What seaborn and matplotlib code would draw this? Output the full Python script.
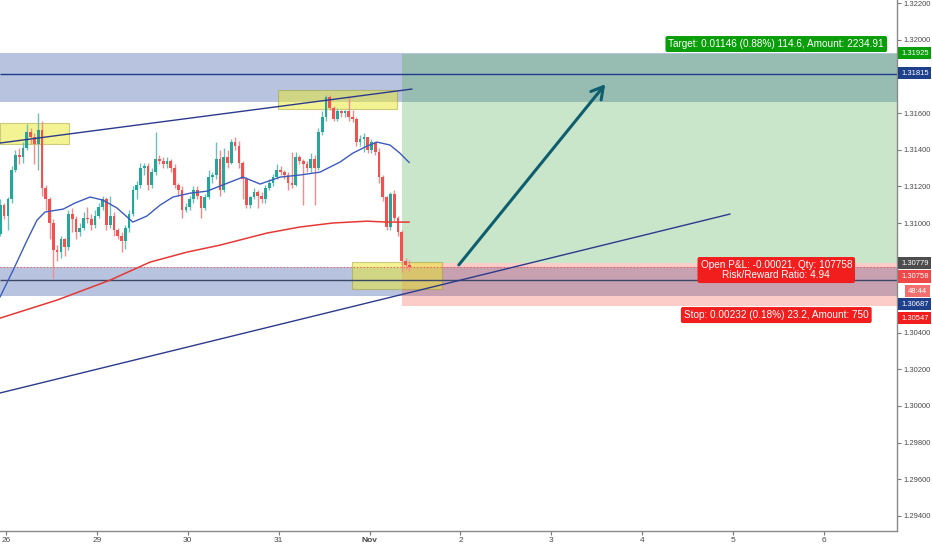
import matplotlib
matplotlib.use("Agg")
import matplotlib.pyplot as plt
import numpy as np
import seaborn as sns
from matplotlib.patches import Rectangle

# hourly candles, hour 0 = Oct 26 00:00
start_hour = -1.5
first_open = 1.3094
closes = [1.3110, 1.3104, 1.3113, 1.3129, 1.3137, 1.3136, 1.3141, 1.3150, 1.3147, 1.3143,
          1.3151, 1.3119, 1.3113, 1.3100, 1.3085, 1.3084, 1.3091, 1.3087, 1.3105, 1.3102,
          1.3095, 1.3097, 1.3103, 1.3102, 1.3099, 1.3104, 1.3109, 1.3113, 1.3099, 1.3104,
          1.3096, 1.3093, 1.3090, 1.3097, 1.3105, 1.3118, 1.3121, 1.3130, 1.3131, 1.3121,
          1.3128, 1.3135, 1.3134, 1.3132, 1.3134, 1.3130, 1.3121, 1.3118, 1.3107, 1.3109,
          1.3113, 1.3118, 1.3115, 1.3108, 1.3114, 1.3125, 1.3126, 1.3135, 1.3118, 1.3136,
          1.3133, 1.3144, 1.3142, 1.3133, 1.3124, 1.3110, 1.3114, 1.3117, 1.3115, 1.3113,
          1.3119, 1.3122, 1.3125, 1.3129, 1.3128, 1.3126, 1.3122, 1.3121, 1.3136, 1.3134,
          1.3132, 1.3130, 1.3135, 1.3130, 1.3150, 1.3158, 1.3169, 1.3163, 1.3157, 1.3161,
          1.3160, 1.3161, 1.3158, 1.3157, 1.3144, 1.3146, 1.3147, 1.3140, 1.3144, 1.3139,
          1.3125, 1.3114, 1.3098, 1.3116, 1.3103, 1.3095, 1.3079, 1.3077, 1.30758]
highs = [1.3113, 1.3111, 1.3114, 1.3131, 1.3140, 1.3141, 1.3144, 1.3154, 1.3152, 1.3149,
         1.3160, 1.3156, 1.3121, 1.3114, 1.3102, 1.3088, 1.3093, 1.3092, 1.3107, 1.3108,
         1.3104, 1.3100, 1.3106, 1.3109, 1.3105, 1.3107, 1.3111, 1.3115, 1.3114, 1.3115,
         1.3106, 1.3097, 1.3095, 1.3099, 1.3107, 1.3120, 1.3123, 1.3133, 1.3133, 1.3133,
         1.3130, 1.3150, 1.3137, 1.3136, 1.3136, 1.3135, 1.3132, 1.3122, 1.3120, 1.3111,
         1.3115, 1.3120, 1.3120, 1.3115, 1.3116, 1.3129, 1.3128, 1.3144, 1.3140, 1.3141,
         1.3140, 1.3146, 1.3147, 1.3145, 1.3134, 1.3125, 1.3115, 1.3119, 1.3118, 1.3117,
         1.3121, 1.3124, 1.3127, 1.3132, 1.3131, 1.3129, 1.3128, 1.3139, 1.3139, 1.3137,
         1.3135, 1.3134, 1.3138, 1.3137, 1.3152, 1.3161, 1.3170, 1.3170, 1.3164, 1.3163,
         1.3162, 1.3162, 1.3169, 1.3162, 1.3158, 1.3148, 1.3149, 1.3147, 1.3146, 1.3145,
         1.3141, 1.3126, 1.3115, 1.3117, 1.3118, 1.3104, 1.3096, 1.3081, 1.3080]
lows = [1.3093, 1.3102, 1.3096, 1.3111, 1.3128, 1.3132, 1.3133, 1.3140, 1.3143, 1.3132,
        1.3129, 1.3115, 1.3107, 1.3091, 1.3070, 1.3079, 1.3081, 1.3082, 1.3085, 1.3095,
        1.3091, 1.3093, 1.3096, 1.3100, 1.3096, 1.3097, 1.3103, 1.3107, 1.3096, 1.3097,
        1.3093, 1.3091, 1.3084, 1.3086, 1.3095, 1.3104, 1.3113, 1.3119, 1.3126, 1.3118,
        1.3119, 1.3126, 1.3132, 1.3130, 1.3130, 1.3128, 1.3119, 1.3115, 1.3103, 1.3106,
        1.3107, 1.3111, 1.3113, 1.3103, 1.3107, 1.3113, 1.3122, 1.3124, 1.3115, 1.3117,
        1.3130, 1.3132, 1.3140, 1.3130, 1.3113, 1.3108, 1.3108, 1.3113, 1.3108, 1.3111,
        1.3111, 1.3118, 1.3120, 1.3124, 1.3126, 1.3124, 1.3118, 1.3119, 1.3120, 1.3132,
        1.3110, 1.3128, 1.3128, 1.3110, 1.3129, 1.3148, 1.3156, 1.3162, 1.3156, 1.3156,
        1.3158, 1.3158, 1.3156, 1.3155, 1.3142, 1.3142, 1.3139, 1.3138, 1.3138, 1.3137,
        1.3122, 1.3112, 1.3096, 1.3096, 1.3101, 1.3093, 1.3073, 1.3075, 1.3074]

# moving averages (hour, price)
ma_fast_hours = [-1.6, 1.9, 5.6, 8.2, 10.3, 15.1, 18.2, 22.2, 25.6, 29.3, 33.5, 37.2, 40.7, 44.1,
                 48.6, 53.1, 56.5, 62.6, 67.1, 72.4, 77.6, 82.9, 88.2, 91.6, 95.3, 98.0, 101.4,
                 104.0, 106.5]
ma_fast_vals = [1.30595, 1.30743, 1.30907, 1.31016, 1.31060, 1.31076, 1.31109, 1.31142, 1.31125,
                1.31082, 1.31005, 1.31038, 1.31098, 1.31142, 1.31163, 1.31174, 1.31202, 1.31251,
                1.31213, 1.31251, 1.31262, 1.31278, 1.31333, 1.31382, 1.31420, 1.31442, 1.31426,
                1.31382, 1.31330]
ma_slow_hours = [-1.6, 13.5, 27.5, 38.0, 47.8, 56.5, 68.9, 77.6, 86.3, 95.3, 100.6, 106.5]
ma_slow_vals = [1.30480, 1.30579, 1.30688, 1.30786, 1.30841, 1.30879, 1.30945, 1.30978, 1.31000,
                1.31010, 1.31005, 1.31005]

# drawings
upper_zone = (1.31661, 1.31930)
lower_zone = (1.30601, 1.30759)
level_blue = 1.31815
level_low = 1.30687
last_price = 1.30758
entry, target, stop = 1.30779, 1.31925, 1.30547
entry_hour = 104.5
trend_upper = ([-1.6, 107.2], [1.31437, 1.31732])
trend_lower = ([-1.6, 191.2], [1.30071, 1.31049])
arrow_from = (119.1, 1.30759)
arrow_to = (158.7, 1.31770)
yellow_boxes = [(-1.6, 16.6, 1.31431, 1.31546),
                (71.8, 103.2, 1.31622, 1.31726),
                (91.4, 115.1, 1.30639, 1.30786)]

day_labels = ['26', '29', '30', '31', 'Nov', '2', '3', '4', '5', '6']
y_ticks = [1.322, 1.320, 1.316, 1.314, 1.312, 1.310, 1.304, 1.302, 1.300, 1.298, 1.296, 1.294]

target_text = "Target: 0.01146 (0.88%) 114.6, Amount: 2234.91"
pnl_text = "Open P&L: -0.00021, Qty: 107758\nRisk/Reward Ratio: 4.94"
stop_text = "Stop: 0.00232 (0.18%) 23.2, Amount: 750"

# right-axis badges: text, shown at price, colour
badges = [("1.31925", 1.31928, '#0a9e0a'),
          ("1.31815", 1.31819, '#1e3f8a'),
          ("1.30779", 1.30781, '#4d4d4d'),
          ("1.30758", 1.30707, '#f04848'),
          ("48:44", 1.30628, '#f47070'),
          ("1.30687", 1.30557, '#1e3f8a'),
          ("1.30547", 1.30480, '#f21d1d')]

sns.set_theme(style="white")
plt.rcParams['font.family'] = ['Liberation Sans', 'DejaVu Sans']

fig = plt.figure(figsize=(9.32, 5.5), dpi=100)
ax_w = 897
ax = fig.add_axes([0, 19 / 550, ax_w / 932, 531 / 550])
x_left, x_right = -6 / 3.787, (ax_w - 6) / 3.787
box_end = x_right

o = np.r_[first_open, closes[:-1]]
c = np.array(closes)
hrs = start_hour + np.arange(len(c))
up = c >= o
green, red = '#26a69a', '#ef5350'
body_col = np.where(up, green, red)
wick_col = np.where(up, '#6cc0b7', '#f28d8b')

# zones
for lo, hi in [upper_zone, lower_zone]:
    ax.add_patch(Rectangle((x_left, lo), box_end - x_left, hi - lo, fc='#2a4d9e',
                           alpha=0.33, lw=0, zorder=1))
ax.add_patch(Rectangle((entry_hour, entry), box_end - entry_hour, target - entry,
                       fc='#4caf50', alpha=0.3, lw=0, zorder=1.5))
ax.add_patch(Rectangle((entry_hour, stop), box_end - entry_hour, entry - stop,
                       fc='#f44336', alpha=0.27, lw=0, zorder=1.5))
for h0, h1, lo, hi in yellow_boxes:
    ax.add_patch(Rectangle((h0, lo), h1 - h0, hi - lo, fc='#e8e82a', alpha=0.5,
                           ec='#9c9c30', lw=0.8, zorder=2))

ax.hlines(level_blue, x_left, box_end, color='#1f3c88', lw=1, zorder=2.5)
ax.hlines(level_low, x_left, box_end, color='#3b4766', lw=1, zorder=2.5)
ax.hlines(last_price, x_left, box_end, color='#ef5350', lw=0.8, ls=(0, (1, 2)), zorder=2.5)

# candles
ax.vlines(hrs, lows, highs, colors=wick_col, lw=1, zorder=3)
ax.bar(hrs, np.maximum(np.abs(c - o), 0.00003), bottom=np.minimum(o, c), width=0.72,
       color=body_col, lw=0, zorder=3.1)

sns.lineplot(x=ma_fast_hours, y=ma_fast_vals, ax=ax, color='#3d5bbf', lw=1, zorder=4)
sns.lineplot(x=ma_slow_hours, y=ma_slow_vals, ax=ax, color='#e53935', lw=1.1, zorder=4)

ax.plot(*trend_upper, color='#2d3a8c', lw=1, zorder=5)
ax.plot(*trend_lower, color='#2d3a8c', lw=1, zorder=5)
ax.annotate('', xy=arrow_to, xytext=arrow_from, zorder=6,
            arrowprops=dict(arrowstyle='->,head_length=0.7,head_width=0.4',
                            color='#0f5e6e', lw=2.2))

lbl_x = 203.4
box_style = 'round,pad=0.3,rounding_size=0.2'
ax.text(lbl_x, 1.31978, target_text, ha='center', va='center', fontsize=7.2, color='white',
        zorder=8, bbox=dict(boxstyle=box_style, fc='#0a9e0a', ec='none'))
ax.text(lbl_x, 1.30743, pnl_text, ha='center', va='center', fontsize=7.2, color='white',
        linespacing=1.0, zorder=8, bbox=dict(boxstyle=box_style, fc='#f21d1d', ec='none'))
ax.text(lbl_x, 1.30497, stop_text, ha='center', va='center', fontsize=7.2, color='white',
        zorder=8, bbox=dict(boxstyle=box_style, fc='#f21d1d', ec='none'))

tr = ax.get_yaxis_transform()
for txt, pos, col in badges:
    shift = 11 if ':' in txt else 4
    ax.text(1.0 + shift / ax_w, pos, txt, transform=tr, ha='left', va='center', fontsize=5.5,
            color='white', zorder=10, clip_on=False,
            bbox=dict(boxstyle='square,pad=0.35', fc=col, ec='none'))

ax.set_xlim(x_left, x_right)
ax.set_ylim(1.32 - 491 / 18300, 1.32 + 40 / 18300)
ax.yaxis.tick_right()
ax.set_yticks(y_ticks)
ax.set_yticklabels([f"{v:.5f}" for v in y_ticks])
ax.set_xticks([24 * i for i in range(len(day_labels))])
ax.set_xticklabels(day_labels)
for t in ax.get_xticklabels():
    if t.get_text() == 'Nov':
        t.set_fontweight('bold')
ax.tick_params(axis='both', length=3, width=0.8, color='#777777', labelcolor='#4a4a4a',
               labelsize=5.5, pad=1.5)
ax.tick_params(axis='x', bottom=True, labelsize=6)
ax.tick_params(axis='y', right=True)
ax.set_xlabel('')
ax.set_ylabel('')
for side in ['left', 'top']:
    ax.spines[side].set_visible(False)
for side in ['right', 'bottom']:
    ax.spines[side].set_color('#8a8a8a')
    ax.spines[side].set_linewidth(1)

fig.savefig('out.png', dpi=100, facecolor='white')
